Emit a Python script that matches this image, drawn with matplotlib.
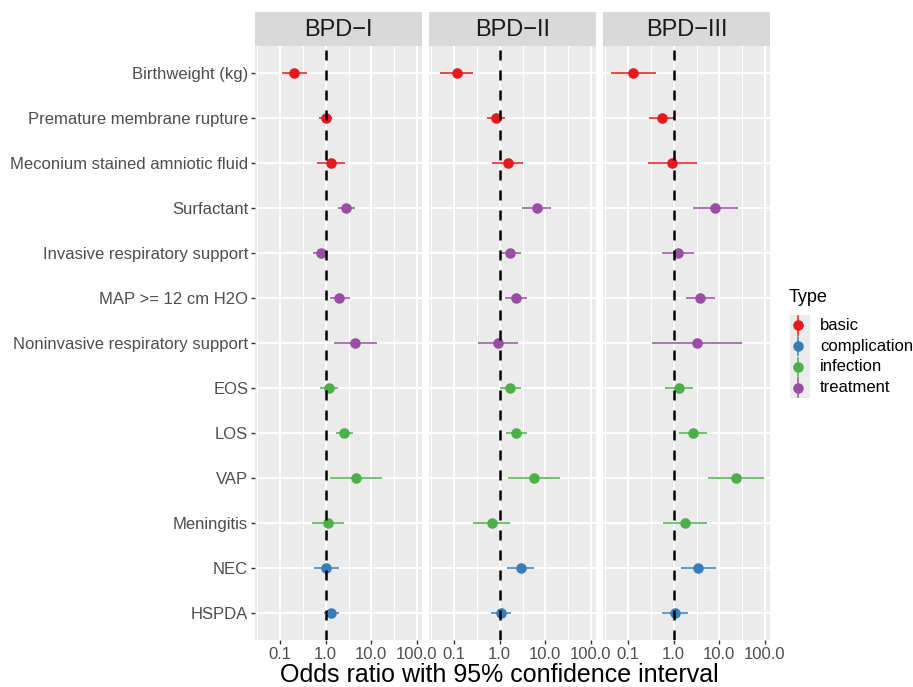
import numpy as np
import matplotlib
matplotlib.use("Agg")
import matplotlib.pyplot as plt
from matplotlib.ticker import FixedLocator, NullFormatter

plt.rcParams['font.family'] = ['Liberation Sans', 'DejaVu Sans']

# ---------------- data ----------------
variables = ["Birthweight (kg)", "Premature membrane rupture", "Meconium stained amniotic fluid",
             "Surfactant", "Invasive respiratory support", "MAP >= 12 cm H2O",
             "Noninvasive respiratory support", "EOS", "LOS", "VAP", "Meningitis", "NEC", "HSPDA"]
var_types = ["basic", "basic", "basic", "treatment", "treatment", "treatment", "treatment",
             "infection", "infection", "infection", "infection", "complication", "complication"]
panels = ["BPD\u2212I", "BPD\u2212II", "BPD\u2212III"]

or_bpd1 = [0.20, 1.00, 1.29, 2.84, 0.78, 2.00, 4.40, 1.20, 2.57, 4.55, 1.10, 1.03, 1.31]
lo_bpd1 = [0.11, 0.71, 0.63, 1.90, 0.53, 1.22, 1.50, 0.74, 1.71, 1.24, 0.51, 0.55, 0.94]
hi_bpd1 = [0.38, 1.40, 2.60, 4.30, 1.14, 3.36, 13.6, 1.90, 3.98, 17.5, 2.52, 2.00, 1.93]

or_bpd2 = [0.113, 0.82, 1.50, 6.40, 1.68, 2.27, 0.92, 1.68, 2.31, 5.70, 0.67, 2.88, 1.05]
lo_bpd2 = [0.050, 0.52, 0.67, 3.13, 1.00, 1.29, 0.34, 1.00, 1.37, 1.55, 0.257, 1.45, 0.65]
hi_bpd2 = [0.26, 1.33, 3.29, 13.5, 2.97, 4.00, 2.47, 2.97, 3.96, 21.2, 1.71, 5.70, 1.74]

or_bpd3 = [0.129, 0.55, 0.92, 8.10, 1.25, 3.80, 3.20, 1.33, 2.62, 23.2, 1.78, 3.43, 1.07]
lo_bpd3 = [0.043, 0.29, 0.27, 2.62, 0.55, 1.84, 0.33, 0.63, 1.33, 5.70, 0.58, 1.47, 0.54]
hi_bpd3 = [0.40, 1.07, 3.20, 25.2, 2.85, 8.00, 31.9, 2.71, 5.30, 96.0, 5.40, 8.40, 2.03]

type_levels = ["basic", "complication", "infection", "treatment"]
type_colors = {"basic": "#E41A1C", "complication": "#377EB8",
               "infection": "#4DAF4A", "treatment": "#984EA3"}

x_ticks = [0.1, 1.0, 10.0, 100.0]
x_ticklabels = ["0.1", "1.0", "10.0", "100.0"]
x_minor = [10 ** -1.5, 10 ** -0.5, 10 ** 0.5, 10 ** 1.5]

# ---------------- layout ----------------
W, H = 913, 687
fig = plt.figure(figsize=(W / 100, H / 100), dpi=100)

def fx(px):
    return px / W

def fy(py):
    return 1 - py / H

panel_left = [255, 429, 603]
panel_w = 167
ptop, pbot = 46, 640
stop = 12

data = [(or_bpd1, lo_bpd1, hi_bpd1), (or_bpd2, lo_bpd2, hi_bpd2), (or_bpd3, lo_bpd3, hi_bpd3)]
n = len(variables)
ypos = np.arange(n)

tick_col = "#4D4D4D"
for i, (name, (orv, lov, hiv)) in enumerate(zip(panels, data)):
    ax = fig.add_axes([fx(panel_left[i]), fy(pbot), fx(panel_w), (pbot - ptop) / H])
    ax.set_facecolor("#EBEBEB")
    ax.set_xscale("log")
    ax.set_xlim(10 ** -1.55, 10 ** 2.11)
    ax.set_ylim(n - 1 + 0.6, -0.6)
    for s in ax.spines.values():
        s.set_visible(False)
    ax.xaxis.set_major_locator(FixedLocator(x_ticks))
    ax.xaxis.set_minor_locator(FixedLocator(x_minor))
    ax.xaxis.set_minor_formatter(NullFormatter())
    ax.set_xticklabels(x_ticklabels)
    ax.set_yticks(ypos)
    ax.tick_params(axis="x", which="major", colors="#333333", labelcolor=tick_col,
                   labelsize=12, length=2.75, width=1.0, pad=2.2)
    ax.tick_params(axis="x", which="minor", length=0)
    if i == 0:
        ax.set_yticklabels(variables)
        ax.tick_params(axis="y", which="major", colors="#333333", labelcolor=tick_col,
                       labelsize=12, length=2.75, width=1.0, pad=2.2)
    else:
        ax.set_yticklabels([])
        ax.tick_params(axis="y", which="both", length=0)
    ax.grid(True, which="major", color="white", linewidth=1.4)
    ax.grid(True, which="minor", axis="x", color="white", linewidth=0.7)
    ax.set_axisbelow(True)

    for j in range(n):
        c = type_colors[var_types[j]]
        ax.plot([lov[j], hiv[j]], [j, j], color=c, linewidth=1.1, solid_capstyle="butt", zorder=3)
        ax.plot([orv[j]], [j], marker="o", markersize=7.6, color=c, markeredgewidth=0, zorder=4)

    ax.axvline(1.0, color="black", linewidth=1.8, linestyle=(0, (4.0, 4.0)), zorder=5)

    # strip
    sax = fig.add_axes([fx(panel_left[i]), fy(ptop), fx(panel_w), (ptop - stop) / H])
    sax.set_facecolor("#D9D9D9")
    sax.set_xticks([])
    sax.set_yticks([])
    for s in sax.spines.values():
        s.set_visible(False)
    sax.text(0.5, 0.47, name, transform=sax.transAxes, ha="center", va="center",
             fontsize=17, color="#1A1A1A")

fig.text(fx(499), fy(675), "Odds ratio with 95% confidence interval", ha="center", va="center",
         fontsize=18, color="black")

# ---------------- legend ----------------
fig.text(fx(789), fy(297), "Type", ha="left", va="center", fontsize=13, color="black")
lax = fig.add_axes([fx(790), fy(398), fx(20), (398 - 315) / H])
lax.set_facecolor("#EBEBEB")
lax.set_xlim(0, 1)
lax.set_ylim(len(type_levels), 0)
lax.set_xticks([])
lax.set_yticks([])
for s in lax.spines.values():
    s.set_visible(False)
for k, t in enumerate(type_levels):
    c = type_colors[t]
    yc = k + 0.5
    lax.plot([0.4, 0.4], [yc - 0.45, yc + 0.45], color=c, linewidth=1.1)
    lax.plot([0.4], [yc], marker="o", markersize=7.6, color=c, markeredgewidth=0)
    fig.text(fx(820), fy(315 + (398 - 315) * (k + 0.5) / len(type_levels)), t,
             ha="left", va="center", fontsize=12, color="black")

fig.savefig("out.png", dpi=100, facecolor="white")
